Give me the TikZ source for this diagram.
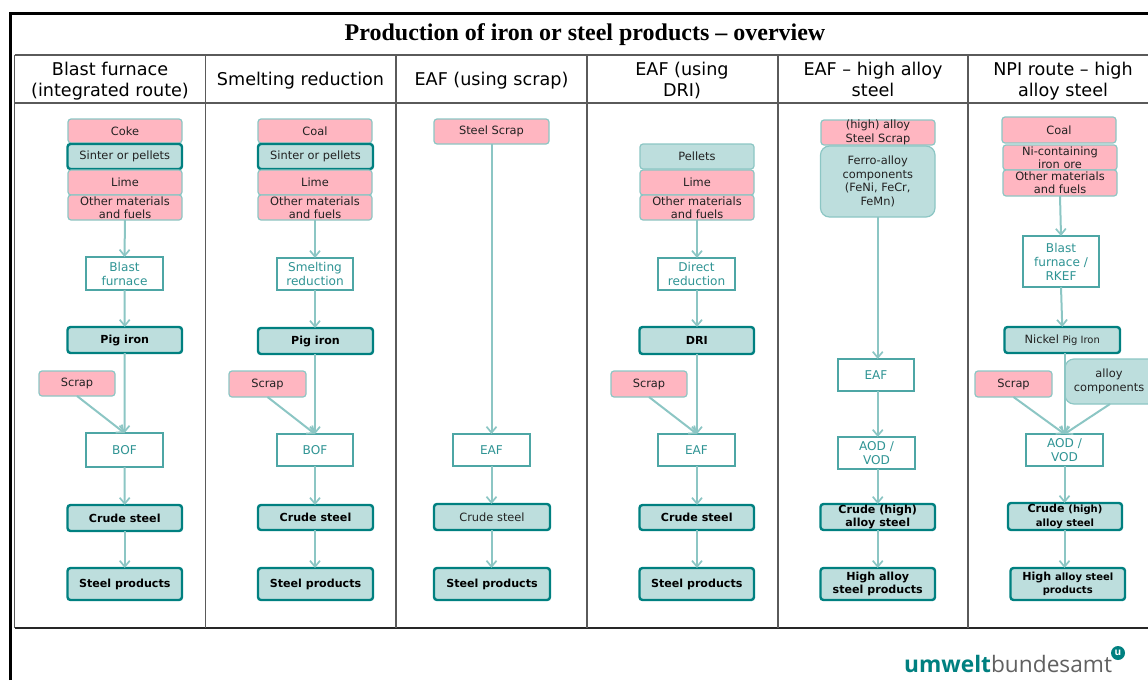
\documentclass[tikz,border=0pt]{standalone}
\usepackage{fontspec}
\setmainfont{DejaVu Sans}
\newfontfamily\titlefont{Liberation Serif}
\newfontfamily\logofont{Open Sans}
\usetikzlibrary{arrows.meta}
\definecolor{pinkfill}{HTML}{FFB6C1}
\definecolor{tealfill}{HTML}{BDDEDD}
\definecolor{tealdark}{HTML}{008080}
\definecolor{tealmid}{HTML}{8CC6C4}
\definecolor{tealtext}{HTML}{2F9494}
\definecolor{inktext}{HTML}{222222}
\definecolor{gridline}{HTML}{5A5A5A}
\newcommand{\bodyfs}{\fontsize{11.4}{13.4}\selectfont}
\newcommand{\boldfs}{\fontsize{11.1}{13.4}\selectfont}
\newcommand{\smallfs}{\fontsize{10}{13}\selectfont}
\newcommand{\headfs}{\fontsize{17.6}{21.6}\selectfont}
\newcommand{\placebox}[7]{%
  \pgfmathsetmacro{\bxcx}{(#3+#5)/2}\pgfmathsetmacro{\bxcy}{(#4+#6)/2}%
  \pgfmathsetmacro{\bxw}{#5-#3}\pgfmathsetmacro{\bxh}{#6-#4}%
  \node[#2,minimum width=\bxw pt,minimum height=\bxh pt] (#1) at (\bxcx,\bxcy) {#7};}
\tikzset{
  x=1pt,y=-1pt,
  basebox/.style={inner sep=0pt,outer sep=0pt,align=center,font=\bodyfs,text=inktext},
  inputbox/.style={basebox,rounded corners=3pt,fill=pinkfill,draw=tealmid,line width=1.2pt},
  softbox/.style={basebox,rounded corners=3pt,fill=tealfill,draw=tealmid,line width=1.2pt},
  softbig/.style={softbox,rounded corners=9pt},
  keybox/.style={basebox,rounded corners=3pt,fill=tealfill,draw=tealdark,line width=2.4pt},
  boldbox/.style={keybox,font=\boldfs\bfseries,text=black},
  procbox/.style={basebox,fill=white,draw=tealdark!45!tealmid,line width=1.1pt,text=tealtext,font=\fontsize{12.1}{14}\selectfont},
  flow/.style={draw=tealmid,line width=2pt,-{Straight Barb[length=6pt,width=10pt,line width=1.7pt]}},
  headtext/.style={inner sep=0pt,align=center,font=\headfs,text=black},
  gridrule/.style={draw=gridline,line width=1.05pt},
}
\begin{document}
\begin{tikzpicture}
\useasboundingbox (0,0) rectangle (1148,680);
\clip (0,0) rectangle (1148,680);
% frame and table
\draw[black,line width=2.4pt] (10.5,680) -- (10.5,13.5) -- (1148,13.5);
\node[inner sep=0pt,font=\titlefont\bfseries\fontsize{24}{26}\selectfont] (title) at (585,34.5) {Production of iron or steel products – overview};
\draw[gridrule] (14.5,55) -- (1148,55);
\draw[gridrule] (14.5,103) -- (1148,103);
\draw[draw=black!85,line width=1.05pt] (14.5,628) -- (1148,628);
\draw[gridrule] (14.5,55) -- (14.5,628);
\foreach \lx in {205.5,396,587,778,968}{\draw[gridrule] (\lx,55) -- (\lx,628);}
% headers
\node[headtext] (h1) at (110,81) {Blast furnace\\(integrated route)};
\node[headtext] (h2) at (300.5,80.5) {Smelting reduction};
\node[headtext] (h3) at (491.5,80.5) {EAF (using scrap)};
\node[headtext] (h4) at (682,80.5) {EAF (using\\DRI)};
\node[headtext] (h5) at (873,79.5) {EAF – high alloy\\steel};
\node[headtext] (h6) at (1063,81) {NPI route – high\\alloy steel};
% column 1
\placebox{a1}{inputbox}{68}{119}{182}{143}{Coke}
\placebox{a2}{keybox}{67.5}{144}{182}{169}{Sinter or pellets}
\placebox{a3}{inputbox}{68}{170}{182}{195}{Lime}
\placebox{a4}{inputbox}{68}{195}{182}{220}{Other materials\\and fuels}
\placebox{a5}{procbox}{86}{257}{163}{290}{Blast\\furnace}
\placebox{a6}{boldbox}{67.5}{327}{182}{353}{Pig iron}
\placebox{a7}{inputbox}{39}{371}{115}{396}{Scrap}
\placebox{a8}{procbox}{86}{433}{163}{467}{BOF}
\placebox{a9}{boldbox}{67.5}{505}{182}{531}{Crude steel}
\placebox{a10}{boldbox}{67.5}{568}{182}{600}{Steel products}
% column 2
\placebox{b1}{inputbox}{258}{119}{372}{143}{Coal}
\placebox{b2}{keybox}{258}{144}{373}{169}{Sinter or pellets}
\placebox{b3}{inputbox}{258}{170}{372}{195}{Lime}
\placebox{b4}{inputbox}{258}{195}{372}{220}{Other materials\\and fuels}
\placebox{b5}{procbox}{277}{258}{353}{290}{Smelting\\reduction}
\placebox{b6}{boldbox}{258}{328}{373}{354}{Pig iron}
\placebox{b7}{inputbox}{229}{371}{306}{397}{Scrap}
\placebox{b8}{procbox}{277}{434}{353}{466}{BOF}
\placebox{b9}{boldbox}{258}{505}{373}{530}{Crude steel}
\placebox{b10}{boldbox}{258}{568}{373}{600}{Steel products}
% column 3
\placebox{c1}{inputbox}{434}{119}{549}{144}{Steel Scrap}
\placebox{c2}{procbox}{453}{434}{530}{466}{EAF}
\placebox{c3}{keybox}{434}{504}{550}{530}{Crude steel}
\placebox{c4}{boldbox}{434}{568}{550}{600}{Steel products}
% column 4
\placebox{d1}{softbox}{640}{144}{754}{169}{Pellets}
\placebox{d2}{inputbox}{640}{170}{754}{195}{Lime}
\placebox{d3}{inputbox}{640}{195}{754}{220}{Other materials\\and fuels}
\placebox{d4}{procbox}{658}{258}{735}{290}{Direct\\reduction}
\placebox{d5}{boldbox}{639.5}{327}{754}{354}{DRI}
\placebox{d6}{inputbox}{611}{371}{687}{397}{Scrap}
\placebox{d7}{procbox}{658}{434}{735}{466}{EAF}
\placebox{d8}{boldbox}{639.5}{505}{754}{530}{Crude steel}
\placebox{d9}{boldbox}{639.5}{568}{754}{600}{Steel products}
% column 5
\placebox{e1}{inputbox}{821}{120}{935}{145}{(high) alloy\\Steel Scrap}
\placebox{e2}{softbig}{820.5}{146}{935}{217}{Ferro-alloy\\components\\(FeNi, FeCr,\\FeMn)}
\placebox{e3}{procbox}{838}{359}{914}{391}{EAF}
\placebox{e4}{procbox}{838}{437}{915}{469}{AOD /\\VOD}
\placebox{e5}{boldbox}{820.5}{504}{935}{530}{Crude (high)\\alloy steel}
\placebox{e6}{boldbox}{820.5}{568}{935}{600}{High alloy\\steel products}
% column 6
\placebox{f1}{inputbox}{1002}{117}{1116}{143}{Coal}
\placebox{f2}{inputbox}{1003}{145}{1117}{170}{Ni-containing\\iron ore}
\placebox{f3}{inputbox}{1003}{170}{1117}{196}{Other materials\\and fuels}
\placebox{f4}{procbox}{1023}{236}{1099}{287}{Blast\\furnace /\\RKEF}
\placebox{f5}{keybox}{1004.5}{327}{1120}{353}{Nickel {\smallfs Pig Iron}}
\placebox{f6}{inputbox}{975}{371}{1052}{397}{Scrap}
\placebox{f7}{softbig}{1065}{359}{1160}{404}{\hspace*{-7pt}alloy\\\hspace*{-7pt}components}
\placebox{f8}{procbox}{1026}{434}{1103}{466}{AOD /\\VOD}
\placebox{f9}{boldbox}{1008}{503}{1122}{530}{Crude {\smallfs (high)}\\{\smallfs alloy steel}}
\placebox{f10}{boldbox}{1010.5}{568}{1125}{600}{High {\smallfs alloy steel}\\{\smallfs products}}
% connectors
\draw[flow] (a4.south) -- (a5.north);
\draw[flow] (a5.south) -- (a6.north);
\draw[flow] (a6.south) -- (a8.north);
\draw[flow] (a7.south) -- (a8.north);
\draw[flow] (a8.south) -- (a9.north);
\draw[flow] (a9.south) -- (a10.north);
\draw[flow] (b4.south) -- (b5.north);
\draw[flow] (b5.south) -- (b5.south |- b6.north);
\draw[flow] (b6.south -| b8.north) -- (b8.north);
\draw[flow] (b7.south) -- (b8.north);
\draw[flow] (b8.south) -- (b8.south |- b9.north);
\draw[flow] (b8.south |- b9.south) -- (b8.south |- b10.north);
\draw[flow] (c1.south) -- (c1.south |- c2.north);
\draw[flow] (c2.south -| c1.south) -- (c1.south |- c3.north);
\draw[flow] (c3.south -| c1.south) -- (c1.south |- c4.north);
\draw[flow] (d3.south) -- (d3.south |- d4.north);
\draw[flow] (d4.south -| d3.south) -- (d3.south |- d5.north);
\draw[flow] (d5.south -| d3.south) -- (d3.south |- d7.north);
\draw[flow] (d6.south) -- (d3.south |- d7.north);
\draw[flow] (d7.south -| d3.south) -- (d3.south |- d8.north);
\draw[flow] (d8.south -| d3.south) -- (d3.south |- d9.north);
\draw[flow] (e2.south) -- (e2.south |- e3.north);
\draw[flow] (e2.south |- e3.south) -- (e2.south |- e4.north);
\draw[flow] (e2.south |- e4.south) -- (e2.south |- e5.north);
\draw[flow] (e5.south) -- (e6.north);
\draw[flow] (f3.south) -- (f4.north);
\draw[flow] (f4.south) -- (f5.north);
\draw[flow] (f5.south -| f8.north) -- (f8.north);
\draw[flow] (f6.south) -- (f8.north);
\draw[flow] (f7.south -| 1110,0) -- (f8.north);
\draw[flow] (f8.south) -- (f8.south |- f9.north);
\draw[flow] (f8.south |- f9.south) -- (f8.south |- f10.north);
% logo
\node[inner sep=0pt,anchor=base west,font=\logofont\fontsize{22.7}{26}\selectfont,text=black!62] (logo) at (904,672) {{\bfseries\color{tealdark}umwelt}bundesamt};
\node[circle,fill=tealdark,minimum size=14pt,inner sep=0pt,font=\logofont\bfseries\fontsize{10}{10}\selectfont,text=white] (logou) at (1118,653) {u};
\end{tikzpicture}
\end{document}
